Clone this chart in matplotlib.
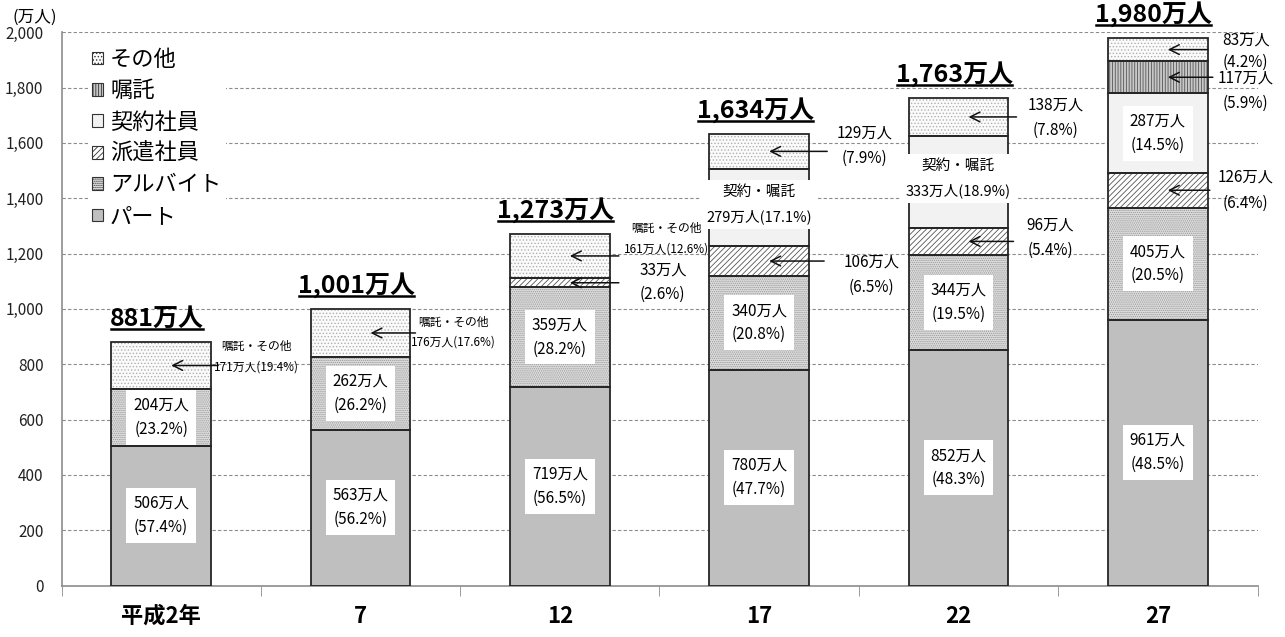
import matplotlib
matplotlib.use("Agg")
import matplotlib.pyplot as plt
from matplotlib.patches import Patch
from matplotlib.lines import Line2D
from matplotlib.transforms import IdentityTransform
from matplotlib.ticker import FuncFormatter, FixedLocator
import numpy as np

plt.rcParams["font.family"] = ["Noto Sans CJK JP", "DejaVu Sans"]
plt.rcParams["hatch.linewidth"] = 0.6

# ---- data (万人, %) ----
years = ["平成2年", "7", "12", "17", "22", "27"]
totals = [881, 1001, 1273, 1634, 1763, 1980]
part = [506, 563, 719, 780, 852, 961]
part_pct = [57.4, 56.2, 56.5, 47.7, 48.3, 48.5]
arbeit = [204, 262, 359, 340, 344, 405]
arbeit_pct = [23.2, 26.2, 28.2, 20.8, 19.5, 20.5]
haken = [0, 0, 33, 106, 96, 126]
haken_pct = [0, 0, 2.6, 6.5, 5.4, 6.4]
keiyaku = [0, 0, 0, 279, 333, 287]        # 17, 22: 契約・嘱託 combined
keiyaku_pct = [0, 0, 0, 17.1, 18.9, 14.5]
shokutaku = [0, 0, 0, 0, 0, 117]
shokutaku_pct = [0, 0, 0, 0, 0, 5.9]
sonota = [171, 176, 161, 129, 138, 83]    # 2–12: 嘱託・その他 combined
sonota_pct = [19.4, 17.6, 12.6, 7.9, 7.8, 4.2]

series = [
    ("part", "パート", part, part_pct),
    ("arbeit", "アルバイト", arbeit, arbeit_pct),
    ("haken", "派遣社員", haken, haken_pct),
    ("keiyaku", "契約社員", keiyaku, keiyaku_pct),
    ("shokutaku", "嘱託", shokutaku, shokutaku_pct),
    ("sonota", "その他", sonota, sonota_pct),
]

# fill / hatch styles per series
styles = {
    "part": dict(fc="#bfbfbf", hatch=None, hc="#bfbfbf"),
    "arbeit": dict(fc="#dcdcdc", hatch="........", hc="#999999"),
    "haken": dict(fc="#ffffff", hatch="//////", hc="#555555"),
    "keiyaku": dict(fc="#f2f2f2", hatch=None, hc="#f2f2f2"),
    "shokutaku": dict(fc="#c8c8c8", hatch="||||||", hc="#555555"),
    "sonota": dict(fc="#fbfbfb", hatch=".....", hc="#b0b0b0"),
}

W, H, DPI = 1285, 637, 100
fig = plt.figure(figsize=(W / DPI, H / DPI), dpi=DPI)
ax = fig.add_axes([61.5 / W, 1 - 585.5 / H, 1196 / W, 553.2 / H])

x = np.arange(len(years))
bar_w = 0.5
px_per_x = 1196 / 6.0

# grid
ax.set_ylim(0, 2000)
ax.set_xlim(-0.5, 5.5)
ax.yaxis.set_major_locator(FixedLocator(np.arange(0, 2001, 200)))
ax.yaxis.set_major_formatter(FuncFormatter(lambda v, p: f"{int(v):,}"))
ax.grid(axis="y", color="#8c8c8c", linestyle=(0, (3, 2)), linewidth=0.8, zorder=0)
ax.set_axisbelow(True)

bottoms = np.zeros(len(years))
mids = {}
for key, name, vals, pcts in series:
    st = styles[key]
    vals = np.array(vals, dtype=float)
    idx = np.nonzero(vals)[0]
    ax.bar(x[idx], vals[idx], bar_w, bottom=bottoms[idx], color=st["fc"],
           edgecolor=st["hc"], linewidth=0, hatch=st["hatch"], zorder=2)
    ax.bar(x[idx], vals[idx], bar_w, bottom=bottoms[idx], fill=False,
           edgecolor="#262626", linewidth=1.3, zorder=3)
    for i in idx:
        mids[(key, i)] = bottoms[i] + vals[i] / 2
    bottoms = bottoms + vals

box = dict(boxstyle="square,pad=0.45", fc="white", ec="none")

# labels inside the bars
def inner(key, vals, pcts, i):
    ax.text(i, mids[(key, i)], f"{vals[i]}万人\n({pcts[i]}%)", ha="center",
            va="center", fontsize=11, linespacing=1.55, bbox=box, zorder=5)

for i in range(6):
    inner("part", part, part_pct, i)
    inner("arbeit", arbeit, arbeit_pct, i)
inner("keiyaku", keiyaku, keiyaku_pct, 5)

# 契約・嘱託 combined labels (17, 22)
for i in (3, 4):
    ax.text(i, mids[("keiyaku", i)] + 12,
            f"契約・嘱託\n{keiyaku[i]}万人({keiyaku_pct[i]}%)",
            ha="center", va="center", fontsize=10.5, linespacing=1.85,
            bbox=dict(boxstyle="square,pad=0.35", fc="white", ec="none"), zorder=5)

# arrow callouts: (series, index) -> text dx, line dys, arrow tail (pixels)
callouts = {
    ("sonota", 0): (95, (-19, 2), 57),
    ("sonota", 1): (93, (-11, 9), 55),
    ("sonota", 2): (107, (-28, -7), 59),
    ("haken", 2): (103, (-13, 12), 59),
    ("sonota", 3): (105, (-18, 7), 68),
    ("haken", 3): (112, (1, 26), 65),
    ("sonota", 4): (97, (-12, 13), 58),
    ("haken", 4): (92, (-16, 9), 55),
    ("sonota", 5): (88, (-10, 13), 50),
    ("shokutaku", 5): (88, (1, 26), 55),
    ("haken", 5): (88, (-13, 13), 52),
}
lookup = {k: (v, p) for k, _, v, p in series}
for (key, i), (dx, (dy1, dy2), tail) in callouts.items():
    vals, pcts = lookup[key]
    ym = mids[(key, i)]
    if key == "sonota" and i < 3:
        l1, l2, fs = "嘱託・その他", f"{vals[i]}万人({pcts[i]}%)", 8.5
    else:
        l1, l2, fs = f"{vals[i]}万人", f"({pcts[i]}%)", 11
    head = 10
    ax.annotate("", xy=(i + head / px_per_x, ym), xytext=(tail - head, 0),
                textcoords="offset pixels",
                arrowprops=dict(arrowstyle="->,head_length=0.7,head_width=0.35",
                                lw=1.1, color="#111111", shrinkA=0, shrinkB=0),
                zorder=6, annotation_clip=False)
    for line, dy in ((l1, dy1), (l2, dy2)):
        ax.annotate(line, xy=(i, ym), xytext=(dx, -dy), textcoords="offset pixels",
                    ha="center", va="center", fontsize=fs, zorder=6,
                    annotation_clip=False)

# totals above the bars
total_texts = []
for i, t in enumerate(totals):
    top = bottoms[i]
    txt = ax.annotate(f"{t:,}万人", xy=(i, top), xytext=(-4, 16),
                      textcoords="offset pixels", ha="center", va="baseline",
                      fontsize=18, fontweight="bold", zorder=7,
                      annotation_clip=False)
    total_texts.append((txt, i, top))

# axes styling
for s in ("top", "right"):
    ax.spines[s].set_visible(False)
ax.spines["left"].set_color("#8c8c8c")
ax.spines["bottom"].set_color("#8c8c8c")
ax.spines["left"].set_linewidth(1.2)
ax.spines["bottom"].set_linewidth(1.2)
ax.tick_params(axis="y", length=0, pad=13, labelsize=11, labelcolor="#222222")
ax.set_xticks(x)
ax.set_xticklabels(years, fontsize=16, fontweight="bold")
ax.set_xticks(np.arange(-0.5, 6, 1), minor=True)
ax.tick_params(axis="x", which="major", length=0, pad=14)
ax.tick_params(axis="x", which="minor", length=7, color="#8c8c8c", direction="out")

fig.text(12 / W, 1 - 17 / H, "(万人)", fontsize=12, ha="left", va="center")

# legend
leg_order = ["sonota", "shokutaku", "keiyaku", "haken", "arbeit", "part"]
names = {k: n for k, n, _, _ in series}
handles = [Patch(facecolor=styles[k]["fc"], edgecolor="#333333",
                 hatch=styles[k]["hatch"], linewidth=0.8) for k in leg_order]
leg = ax.legend(handles, [names[k] for k in leg_order], loc="upper left",
                bbox_to_anchor=(0.022, 0.98), fontsize=16, frameon=True,
                framealpha=1, edgecolor="none", facecolor="white",
                handlelength=0.5, handleheight=0.5, handletextpad=0.3,
                labelspacing=0.38, borderpad=0.2, borderaxespad=0.0)
leg.set_zorder(4)

# underline the totals
fig.canvas.draw()
renderer = fig.canvas.get_renderer()
for txt, i, top in total_texts:
    bb = txt.get_window_extent(renderer)
    base = ax.transData.transform((i, top))[1] + 16
    fig.add_artist(Line2D([bb.x0 + 1, bb.x1 - 1], [base - 3, base - 3],
                          transform=IdentityTransform(), color="black", lw=1.8))

fig.savefig("out.png", dpi=DPI)
